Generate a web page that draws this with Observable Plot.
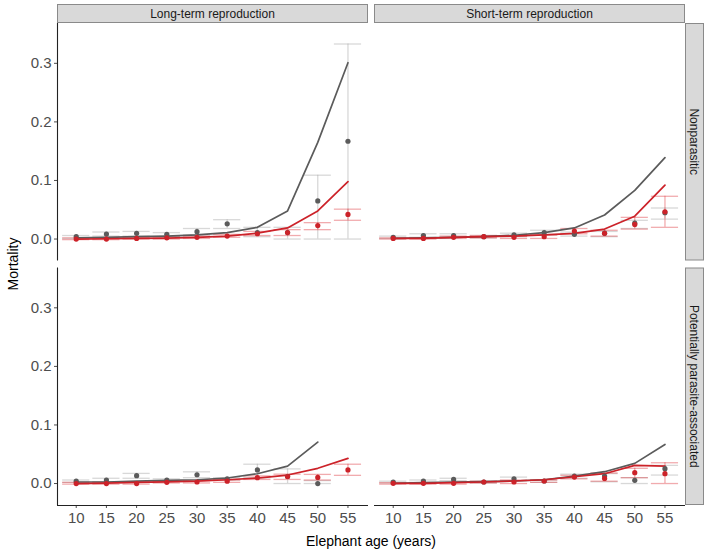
<!DOCTYPE html>
<html><head><meta charset="utf-8">
<script src="https://cdn.jsdelivr.net/npm/d3@7"></script>
<script src="https://cdn.jsdelivr.net/npm/@observablehq/plot@0.6"></script>
<style>body{margin:0;background:#fff;font-family:"Liberation Sans",Arial,sans-serif}</style>
</head><body><div id="chart"></div>
<script>
// ---- categories / ticks ----
const ages = [10, 15, 20, 25, 30, 35, 40, 45, 50, 55];
const columns = ["Long-term reproduction", "Short-term reproduction"];
const rows = ["Nonparasitic", "Potentially parasite-associated"];
const yTicks = [0, 0.1, 0.2, 0.3];
const xLabel = "Elephant age (years)";
const yLabel = "Mortality";

// ---- Long-term reproduction / Nonparasitic ----
const ltNonGreyLine = [0.002, 0.003, 0.004, 0.005, 0.007, 0.011, 0.020, 0.048, 0.165, 0.301];
const ltNonRedLine  = [0.000, 0.0005, 0.001, 0.0015, 0.003, 0.005, 0.010, 0.019, 0.048, 0.098];
const ltNonGreyPt   = [0.004, 0.0085, 0.0097, 0.008, 0.0125, 0.026, 0.011, 0.011, 0.065, 0.167];
const ltNonGreyLo   = [0.001, 0.005, 0.005, 0.004, 0.007, 0.018, 0.004, 0.000, 0.000, 0.000];
const ltNonGreyHi   = [0.006, 0.012, 0.013, 0.011, 0.018, 0.033, 0.020, 0.020, 0.109, 0.333];
const ltNonRedPt    = [0.000, 0.000, 0.001, 0.002, 0.003, 0.005, 0.009, 0.011, 0.023, 0.042];
const ltNonRedLo    = [-0.001, -0.001, 0.000, 0.000, 0.001, 0.003, 0.006, 0.006, 0.016, 0.032];
const ltNonRedHi    = [0.002, 0.002, 0.003, 0.004, 0.005, 0.008, 0.013, 0.016, 0.028, 0.051];

// ---- Short-term reproduction / Nonparasitic ----
const stNonGreyLine = [0.001, 0.002, 0.003, 0.004, 0.0065, 0.011, 0.019, 0.041, 0.083, 0.139];
const stNonRedLine  = [0.001, 0.001, 0.003, 0.004, 0.005, 0.007, 0.0097, 0.017, 0.039, 0.092];
const stNonGreyPt   = [0.003, 0.006, 0.006, 0.004, 0.007, 0.011, 0.008, 0.010, 0.027, 0.045];
const stNonGreyLo   = [0.001, 0.003, 0.003, 0.002, 0.004, 0.007, 0.005, 0.004, 0.018, 0.034];
const stNonGreyHi   = [0.005, 0.009, 0.009, 0.006, 0.010, 0.015, 0.012, 0.013, 0.032, 0.053];
const stNonRedPt    = [0.001, 0.001, 0.003, 0.004, 0.003, 0.004, 0.0136, 0.0097, 0.025, 0.0466];
const stNonRedLo    = [0.000, 0.000, 0.001, 0.002, 0.001, 0.001, 0.009, 0.005, 0.017, 0.020];
const stNonRedHi    = [0.002, 0.002, 0.005, 0.006, 0.005, 0.007, 0.018, 0.015, 0.037, 0.073];

// ---- Long-term reproduction / Potentially parasite-associated ----
const ltParGreyLine = [0.0026, 0.0026, 0.004, 0.0054, 0.0065, 0.0094, 0.0167, 0.0298, 0.0707, null];
const ltParRedLine  = [0.000, 0.0006, 0.002, 0.003, 0.004, 0.0065, 0.0094, 0.0145, 0.026, 0.043];
const ltParGreyPt   = [0.004, 0.006, 0.0134, 0.006, 0.015, 0.008, 0.0233, 0.012, 0.000, null];
const ltParGreyLo   = [0.002, 0.003, 0.009, 0.004, 0.010, 0.006, 0.010, 0.000, 0.000, null];
const ltParGreyHi   = [0.006, 0.009, 0.0173, 0.008, 0.020, 0.010, 0.033, 0.025, 0.005, null];
const ltParRedPt    = [0.000, 0.000, 0.000, 0.002, 0.0026, 0.004, 0.010, 0.012, 0.0105, 0.0233];
const ltParRedLo    = [-0.001, -0.001, -0.001, 0.001, 0.001, 0.002, 0.007, 0.007, 0.006, 0.014];
const ltParRedHi    = [0.002, 0.002, 0.002, 0.004, 0.005, 0.006, 0.013, 0.016, 0.0156, 0.033];

// ---- Short-term reproduction / Potentially parasite-associated ----
const stParGreyLine = [0.0003, 0.0014, 0.0026, 0.0031, 0.0043, 0.0065, 0.0128, 0.0202, 0.0344, 0.0668];
const stParRedLine  = [0.0003, 0.0003, 0.0014, 0.0026, 0.0043, 0.0065, 0.0116, 0.0168, 0.031, 0.0298];
const stParGreyPt   = [0.0026, 0.0043, 0.0071, 0.0026, 0.0082, 0.0043, 0.0128, 0.0128, 0.0054, 0.0253];
const stParGreyLo   = [0.001, 0.002, 0.005, 0.001, 0.005, 0.002, 0.009, 0.003, 0.000, 0.0145];
const stParGreyHi   = [0.004, 0.006, 0.009, 0.004, 0.011, 0.006, 0.016, 0.017, 0.010, 0.031];
const stParRedPt    = [0.0003, 0.0003, 0.0003, 0.0026, 0.0026, 0.0043, 0.0111, 0.0088, 0.0185, 0.0168];
const stParRedLo    = [-0.001, -0.001, -0.001, 0.001, 0.000, 0.002, 0.008, 0.004, 0.010, 0.000];
const stParRedHi    = [0.0015, 0.0015, 0.0015, 0.004, 0.006, 0.006, 0.014, 0.018, 0.026, 0.0355];

// ---- build long table ----
const panelSpecs = [
  [columns[0], rows[0], [ltNonGreyLine, ltNonGreyPt, ltNonGreyLo, ltNonGreyHi], [ltNonRedLine, ltNonRedPt, ltNonRedLo, ltNonRedHi]],
  [columns[1], rows[0], [stNonGreyLine, stNonGreyPt, stNonGreyLo, stNonGreyHi], [stNonRedLine, stNonRedPt, stNonRedLo, stNonRedHi]],
  [columns[0], rows[1], [ltParGreyLine, ltParGreyPt, ltParGreyLo, ltParGreyHi], [ltParRedLine, ltParRedPt, ltParRedLo, ltParRedHi]],
  [columns[1], rows[1], [stParGreyLine, stParGreyPt, stParGreyLo, stParGreyHi], [stParRedLine, stParRedPt, stParRedLo, stParRedHi]]
];
const table = [];
for (const [col, row, g, r] of panelSpecs) {
  for (const [series, arr] of [["grey", g], ["red", r]]) {
    ages.forEach((age, i) => table.push({col, row, series, age,
      line: arr[0][i], pt: arr[1][i], lo: arr[2][i], hi: arr[3][i]}));
  }
}

const lineColor = {grey: "#5b5b5b", red: "#cc2229"};
const barColor = {grey: "#a8a8a8", red: "#e0454b"};
const xDomain = [6.9, 58.4];
const yDomain = [-0.0375, 0.368];
const capHalf = 2.25;

const marks = [];
for (const s of ["grey", "red"]) {
  const d = table.filter(t => t.series === s && t.lo != null);
  const o = {fx: "col", fy: "row", stroke: barColor[s], strokeOpacity: 0.45, strokeWidth: 1.3};
  marks.push(Plot.ruleX(d, {...o, x: "age", y1: "lo", y2: "hi"}));
  marks.push(Plot.ruleY(d, {...o, x1: t => t.age - capHalf, x2: t => t.age + capHalf, y: "lo"}));
  marks.push(Plot.ruleY(d, {...o, x1: t => t.age - capHalf, x2: t => t.age + capHalf, y: "hi"}));
}
for (const s of ["grey", "red"]) {
  const d = table.filter(t => t.series === s && t.line != null);
  marks.push(Plot.line(d, {x: "age", y: "line", fx: "col", fy: "row", stroke: lineColor[s], strokeWidth: 1.7}));
}
for (const s of ["grey", "red"]) {
  const d = table.filter(t => t.series === s && t.pt != null);
  marks.push(Plot.dot(d, {x: "age", y: "pt", fx: "col", fy: "row", fill: lineColor[s], r: 2.6}));
}
// axis lines (left panels, bottom panels)
const leftPanels = rows.map(r => ({col: columns[0], row: r}));
const bottomPanels = columns.map(c => ({col: c, row: rows[1]}));
marks.push(Plot.ruleX(leftPanels, {x: () => xDomain[0], fx: "col", fy: "row", stroke: "#222", strokeWidth: 1.1}));
marks.push(Plot.ruleY(bottomPanels, {y: () => yDomain[0], fx: "col", fy: "row", stroke: "#222", strokeWidth: 1.1}));

const W = 709, H = 554, mT = 23, mB = 49, mL = 57, mR = 24;
const fxStep = (W - mL - mR) / (2 - 6 / 317);
const fyStep = (H - mT - mB) / (2 - 7 / 244.5);

const chart = Plot.plot({
  width: W, height: H,
  marginTop: mT, marginBottom: mB, marginLeft: mL, marginRight: mR,
  style: {fontFamily: "'Liberation Sans', Arial, sans-serif", fontSize: "15px", color: "#4d4d4d", background: "white", overflow: "visible"},
  fx: {domain: columns, paddingInner: 6 / 317, paddingOuter: 0, axis: null, round: false},
  fy: {domain: rows, paddingInner: 7 / 244.5, paddingOuter: 0, axis: null, round: false},
  x: {domain: xDomain, ticks: ages, tickSize: 3, tickPadding: 4, label: null},
  y: {domain: yDomain, ticks: yTicks, tickFormat: d3.format(".1f"), tickSize: 3, tickPadding: 3, label: null},
  marks
});
document.getElementById("chart").appendChild(chart);

// ---- strips and axis titles ----
const svg = d3.select(chart.tagName.toLowerCase() === "svg" ? chart : chart.querySelector("svg"));
let fxS = chart.scale && chart.scale("fx");
let fyS = chart.scale && chart.scale("fy");
const fxPos = c => fxS && fxS.apply ? fxS.apply(c) : mL + columns.indexOf(c) * fxStep;
const fyPos = r => fyS && fyS.apply ? fyS.apply(r) : mT + rows.indexOf(r) * fyStep;
const bw = fxS && fxS.bandwidth ? fxS.bandwidth : fxStep * (1 - 6 / 317);
const bh = fyS && fyS.bandwidth ? fyS.bandwidth : fyStep * (1 - 7 / 244.5);
const g = svg.append("g").attr("font-family", "'Liberation Sans', Arial, sans-serif");
for (const c of columns) {
  const x = fxPos(c);
  g.append("rect").attr("x", x + 0.5).attr("y", 4.5).attr("width", bw - 1).attr("height", mT - 5)
    .attr("fill", "#d9d9d9").attr("stroke", "#8a8a8a").attr("stroke-width", 1);
  g.append("text").attr("x", x + bw / 2).attr("y", 4 + (mT - 4) / 2).attr("dy", "0.35em")
    .attr("text-anchor", "middle").attr("font-size", 12).attr("fill", "#1a1a1a").text(c);
}
for (const r of rows) {
  const y = fyPos(r);
  const x0 = W - mR;
  g.append("rect").attr("x", x0 + 0.5).attr("y", y + 0.5).attr("width", 18).attr("height", bh - 1)
    .attr("fill", "#d9d9d9").attr("stroke", "#8a8a8a").attr("stroke-width", 1);
  g.append("text").attr("transform", `translate(${x0 + 9.5},${y + bh / 2}) rotate(90)`).attr("dy", "0.35em")
    .attr("text-anchor", "middle").attr("font-size", 12).attr("fill", "#1a1a1a").text(r);
}
g.append("text").attr("transform", `translate(13,${mT + (H - mT - mB) / 2}) rotate(-90)`).attr("dy", "0.35em")
  .attr("text-anchor", "middle").attr("font-size", 14).attr("fill", "#000").text(yLabel);
g.append("text").attr("x", mL + (W - mL - mR) / 2).attr("y", 546)
  .attr("text-anchor", "middle").attr("font-size", 14).attr("fill", "#000").text(xLabel);
</script>
</body></html>
